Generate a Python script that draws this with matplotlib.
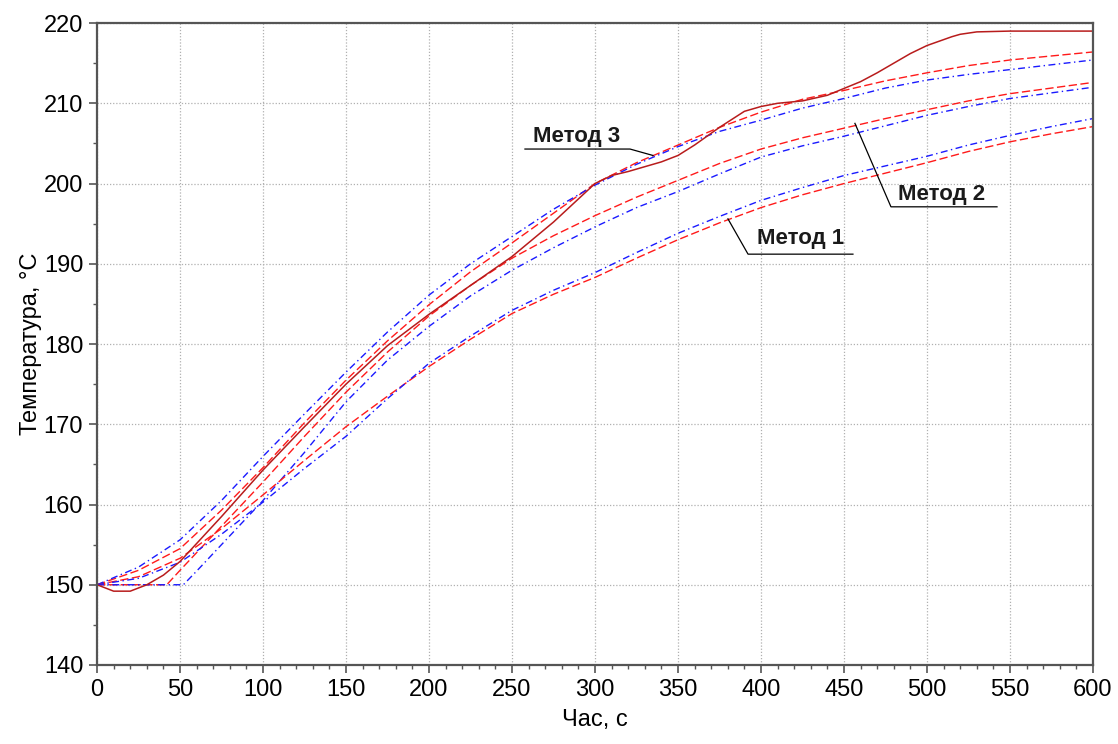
import numpy as np
import matplotlib
matplotlib.use("Agg")
import matplotlib.pyplot as plt
from matplotlib.ticker import MultipleLocator

plt.rcParams["font.family"] = ["Liberation Sans", "DejaVu Sans"]

# measured temperature (solid)
t_exp = [0, 5, 10, 20, 30, 40, 50, 75, 100, 125, 150, 175, 200, 225, 250, 275,
         300, 310, 320, 340, 350, 360, 375, 390, 400, 410, 425, 440, 460, 470,
         480, 490, 500, 515, 520, 530, 550, 590, 600]
T_exp = [150, 149.6, 149.2, 149.2, 150, 151.2, 152.9, 158.5, 164.3, 169.7, 175,
         179.8, 183.7, 187.3, 190.9, 195.2, 200, 201, 201.5, 202.7, 203.5, 204.8,
         207, 209, 209.6, 210, 210.3, 211, 212.7, 213.8, 215, 216.2, 217.2,
         218.3, 218.6, 218.9, 219, 219, 219]

t_grid = [0, 25, 50, 75, 100, 125, 150, 175, 200, 225, 250, 275, 300, 325, 350,
          375, 400, 425, 450, 475, 500, 525, 550, 575, 600]

# method 3
m3_red = [150, 151.8, 154.5, 159.3, 164.6, 170.2, 175.5, 180.4, 184.9, 189,
          192.6, 196.3, 200, 202.6, 204.8, 207, 208.9, 210.5, 211.6, 212.8,
          213.8, 214.7, 215.4, 215.9, 216.4]
m3_blue = [150, 152.2, 155.6, 160.5, 166, 171.3, 176.5, 181.5, 186.1, 190,
           193.4, 196.8, 199.8, 202.4, 204.6, 206.5, 207.9, 209.4, 210.6, 211.9,
           212.9, 213.6, 214.2, 214.8, 215.4]

# method 1
m1_red = [150, 151, 153.3, 157, 161.2, 165.5, 169.7, 173.5, 177.2, 180.6,
          183.8, 186.2, 188.3, 190.7, 193, 195.1, 197, 198.6, 200, 201.3,
          202.6, 204, 205.2, 206.2, 207.1]
m1_blue = [150, 150.8, 152.8, 156.3, 160.3, 164.5, 168.5, 173.2, 177.6, 181,
           184.2, 186.7, 188.9, 191.4, 193.8, 195.9, 197.9, 199.5, 201, 202.2,
           203.4, 204.8, 206, 207.1, 208.1]

# method 2 (delayed start)
t_m2_red = [0, 42, 50, 75, 100, 125, 150, 175, 200, 225, 250, 275, 300, 325,
            350, 375, 400, 425, 450, 475, 500, 525, 550, 575, 600]
m2_red = [150, 150, 151.8, 157.3, 162.8, 168.5, 174, 179, 183.5, 187.3, 190.7,
          193.5, 196, 198.3, 200.4, 202.5, 204.3, 205.7, 206.9, 208.1, 209.2,
          210.3, 211.2, 211.9, 212.6]
t_m2_blue = [0, 52, 60, 75, 100, 125, 150, 175, 200, 225, 250, 275, 300, 325,
             350, 375, 400, 425, 450, 475, 500, 525, 550, 575, 600]
m2_blue = [150, 150, 151.7, 155, 160.5, 166.5, 172.8, 178, 182.2, 186, 189.2,
           192, 194.6, 197, 199, 201.2, 203.3, 204.7, 205.9, 207.2, 208.5,
           209.6, 210.6, 211.3, 212]

fig, ax = plt.subplots(figsize=(11.18, 7.44), dpi=100)
fig.subplots_adjust(left=0.0868, right=0.9776, bottom=0.1062, top=0.969)

red_dash = (0, (6, 2.5))
blue_dd = (0, (5, 2.5, 1, 2.5))

ax.plot(t_grid, m3_red, color="#ff1a1a", lw=1.0, linestyle=red_dash)
ax.plot(t_grid, m3_blue, color="#1a1aff", lw=1.0, linestyle=blue_dd)
ax.plot(t_m2_red, m2_red, color="#ff1a1a", lw=1.0, linestyle=red_dash)
ax.plot(t_m2_blue, m2_blue, color="#1a1aff", lw=1.0, linestyle=blue_dd)
ax.plot(t_grid, m1_red, color="#ff1a1a", lw=1.0, linestyle=red_dash)
ax.plot(t_grid, m1_blue, color="#1a1aff", lw=1.0, linestyle=blue_dd)
ax.plot(t_exp, T_exp, color="#b81c1c", lw=1.1)

# labels with leader lines
labels = [
    ("Метод 3", 289, 205.9, [334.9, 321.1, 257.8], [203.5, 204.3, 204.3]),
    ("Метод 2", 509, 198.6, [456.6, 478.3, 542.2], [207.5, 197.1, 197.1]),
    ("Метод 1", 424, 193.1, [380.1, 392.2, 455.4], [195.6, 191.2, 191.2]),
]
for txt, tx, ty, lx, ly in labels:
    ax.plot(lx, ly, color="black", lw=0.9)
    ax.text(tx, ty, txt, fontsize=16, fontweight="bold", color="#1a1a1a",
            ha="center", va="center")

ax.set_xlim(0, 600)
ax.set_ylim(140, 220)
ax.xaxis.set_major_locator(MultipleLocator(50))
ax.xaxis.set_minor_locator(MultipleLocator(10))
ax.yaxis.set_major_locator(MultipleLocator(10))
ax.yaxis.set_minor_locator(MultipleLocator(5))

ax.grid(True, which="major", color="#b0b0b0", linestyle=(0, (1, 1.5)), lw=0.9)
ax.tick_params(which="major", direction="out", length=6, width=1.2,
               color="#555555", labelsize=17, pad=4)
ax.tick_params(which="minor", direction="out", length=3, width=1.0,
               color="#555555")
for s in ax.spines.values():
    s.set_color("#555555")
    s.set_linewidth(1.6)

ax.set_xlabel("Час, с", fontsize=17, labelpad=6)
ax.set_ylabel("Температура, °С", fontsize=17, labelpad=1)

plt.savefig("out.png", dpi=100)
